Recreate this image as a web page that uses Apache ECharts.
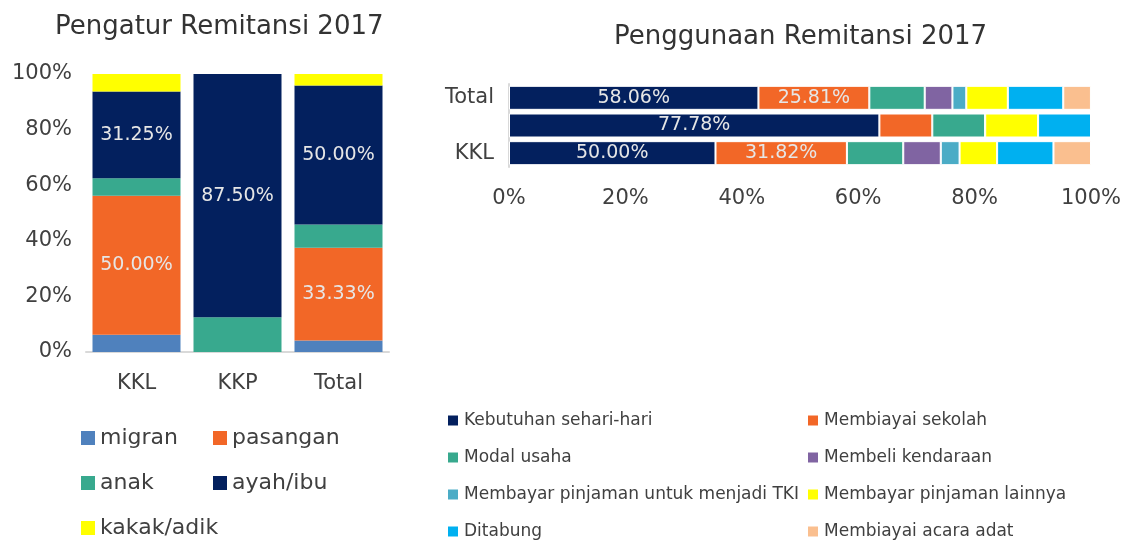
<!DOCTYPE html>
<html>
<head>
<meta charset="utf-8">
<script src="https://cdn.jsdelivr.net/npm/echarts@6/dist/echarts.min.js"></script>
<style>
html, body { margin: 0; padding: 0; background: #fff; }
#chart { width: 1136px; height: 543px; }
</style>
</head>
<body>
<div id="chart"></div>
<script>
// Pengatur Remitansi 2017 (percent of each column)
var pengaturCats = ['KKL', 'KKP', 'Total']
var migran = [6.25, 0, 4.17]
var pasangan = [50.00, 0, 33.33]
var anak = [6.25, 12.50, 8.33]
var ayahIbu = [31.25, 87.50, 50.00]
var kakakAdik = [6.25, 0, 4.17]

// Penggunaan Remitansi 2017 (share of each bar, bottom to top: KKL, KKP, Total)
var penggunaanCats = ['KKL', 'KKP', 'Total']
var kebutuhan = [35.48, 63.64, 42.86]
var sekolah = [22.58, 9.09, 19.05]
var modal = [9.68, 9.09, 9.52]
var kendaraan = [6.45, 0, 4.76]
var pinjamanTki = [3.23, 0, 2.38]
var pinjamanLain = [6.45, 9.09, 7.14]
var ditabung = [9.68, 9.09, 9.52]
var acaraAdat = [6.45, 0, 4.76]
// labels printed on the bars
var kebutuhanLabel = ['50.00%', '77.78%', '58.06%']
var sekolahLabel = ['31.82%', '', '25.81%']

var percentTicks = [0, 20, 40, 60, 80, 100]

var font = 'DejaVu Sans'
var textColor = '#404040'

function leftBar(name, data, color, showLabel) {
	return {
		name: name,
		type: 'bar',
		stack: 'pengatur',
		xAxisIndex: 0,
		yAxisIndex: 0,
		barWidth: 88,
		data: data,
		itemStyle: { color: color },
		label: {
			show: showLabel,
			color: '#e6e6e6',
			fontFamily: font,
			fontSize: 19,
			formatter: function (p) {
				return p.value ? p.value.toFixed(2) + '%' : ''
			}
		}
	}
}

function rightBar(name, data, color, labels) {
	return {
		name: name,
		type: 'bar',
		stack: 'penggunaan',
		xAxisIndex: 1,
		yAxisIndex: 1,
		barWidth: 24,
		data: data,
		itemStyle: { color: color, borderColor: '#fff', borderWidth: 1 },
		label: {
			show: !!labels,
			color: '#e6e6e6',
			fontFamily: font,
			fontSize: 19,
			formatter: function (p) {
				return labels ? labels[p.dataIndex] : ''
			}
		}
	}
}

var chart = echarts.init(document.getElementById('chart'))
chart.setOption({
	animation: false,
	textStyle: { fontFamily: font },
	title: [
		{
			text: 'Pengatur Remitansi 2017',
			left: 55,
			top: 14,
			padding: 0,
			textStyle: { fontFamily: font, fontSize: 26, fontWeight: 'normal', color: '#333' }
		},
		{
			text: 'Penggunaan Remitansi 2017',
			left: 614,
			top: 24,
			padding: 0,
			textStyle: { fontFamily: font, fontSize: 26, fontWeight: 'normal', color: '#333' }
		}
	],
	legend: [
		{
			orient: 'vertical',
			left: 81,
			top: 427,
			padding: 0,
			itemGap: 23,
			itemWidth: 14,
			itemHeight: 14,
			icon: 'rect',
			textStyle: { fontFamily: font, fontSize: 22, color: textColor },
			data: ['migran', 'anak', 'kakak/adik']
		},
		{
			orient: 'vertical',
			left: 213,
			top: 427,
			padding: 0,
			itemGap: 23,
			itemWidth: 14,
			itemHeight: 14,
			icon: 'rect',
			textStyle: { fontFamily: font, fontSize: 22, color: textColor },
			data: ['pasangan', 'ayah/ibu']
		},
		{
			orient: 'vertical',
			left: 446,
			top: 412,
			padding: 0,
			itemGap: 20,
			itemWidth: 12,
			itemHeight: 12,
			icon: 'rect',
			textStyle: {
				fontFamily: font, fontSize: 17, color: textColor,
				width: 345, overflow: 'truncate', ellipsis: ''
			},
			data: ['Kebutuhan sehari-hari', 'Modal usaha', 'Membayar pinjaman untuk menjadi TKI', 'Ditabung']
		},
		{
			orient: 'vertical',
			left: 806,
			top: 412,
			padding: 0,
			itemGap: 20,
			itemWidth: 12,
			itemHeight: 12,
			icon: 'rect',
			textStyle: { fontFamily: font, fontSize: 17, color: textColor },
			data: ['Membiayai sekolah', 'Membeli kendaraan', 'Membayar pinjaman lainnya', 'Membiayai acara adat']
		}
	],
	grid: [
		{ left: 86, top: 74, width: 303, height: 278 },
		{ left: 509, top: 84, width: 582, height: 83 }
	],
	xAxis: [
		{
			type: 'category',
			gridIndex: 0,
			data: pengaturCats,
			axisLine: { lineStyle: { color: '#d9d9d9', width: 2 } },
			axisTick: { show: false },
			axisLabel: { fontSize: 21, color: textColor, margin: 21 }
		},
		{
			type: 'value',
			gridIndex: 1,
			min: percentTicks[0],
			max: percentTicks[percentTicks.length - 1],
			interval: 20,
			axisLine: { show: false },
			axisTick: { show: false },
			splitLine: { show: false },
			axisLabel: { fontSize: 21, color: textColor, margin: 21, formatter: '{value}%' }
		}
	],
	yAxis: [
		{
			type: 'value',
			gridIndex: 0,
			min: percentTicks[0],
			max: percentTicks[percentTicks.length - 1],
			interval: 20,
			axisLine: { show: false },
			axisTick: { show: false },
			splitLine: { show: false },
			axisLabel: { fontSize: 21, color: textColor, margin: 14, formatter: '{value}%' }
		},
		{
			type: 'category',
			gridIndex: 1,
			data: penggunaanCats,
			axisLine: { show: true, lineStyle: { color: '#d9d9d9', width: 2 } },
			axisTick: { show: false },
			axisLabel: { fontSize: 21, color: textColor, margin: 15, interval: 1 }
		}
	],
	series: [
		leftBar('migran', migran, '#4F81BD', false),
		leftBar('pasangan', pasangan, '#F26727', true),
		leftBar('anak', anak, '#38A98E', false),
		leftBar('ayah/ibu', ayahIbu, '#03205E', true),
		leftBar('kakak/adik', kakakAdik, '#FFFF00', false),

		rightBar('Kebutuhan sehari-hari', kebutuhan, '#03205E', kebutuhanLabel),
		rightBar('Membiayai sekolah', sekolah, '#F26727', sekolahLabel),
		rightBar('Modal usaha', modal, '#38A98E'),
		rightBar('Membeli kendaraan', kendaraan, '#8064A2'),
		rightBar('Membayar pinjaman untuk menjadi TKI', pinjamanTki, '#4BACC6'),
		rightBar('Membayar pinjaman lainnya', pinjamanLain, '#FFFF00'),
		rightBar('Ditabung', ditabung, '#00B0F0'),
		rightBar('Membiayai acara adat', acaraAdat, '#FABF8F')
	]
})
</script>
</body>
</html>
